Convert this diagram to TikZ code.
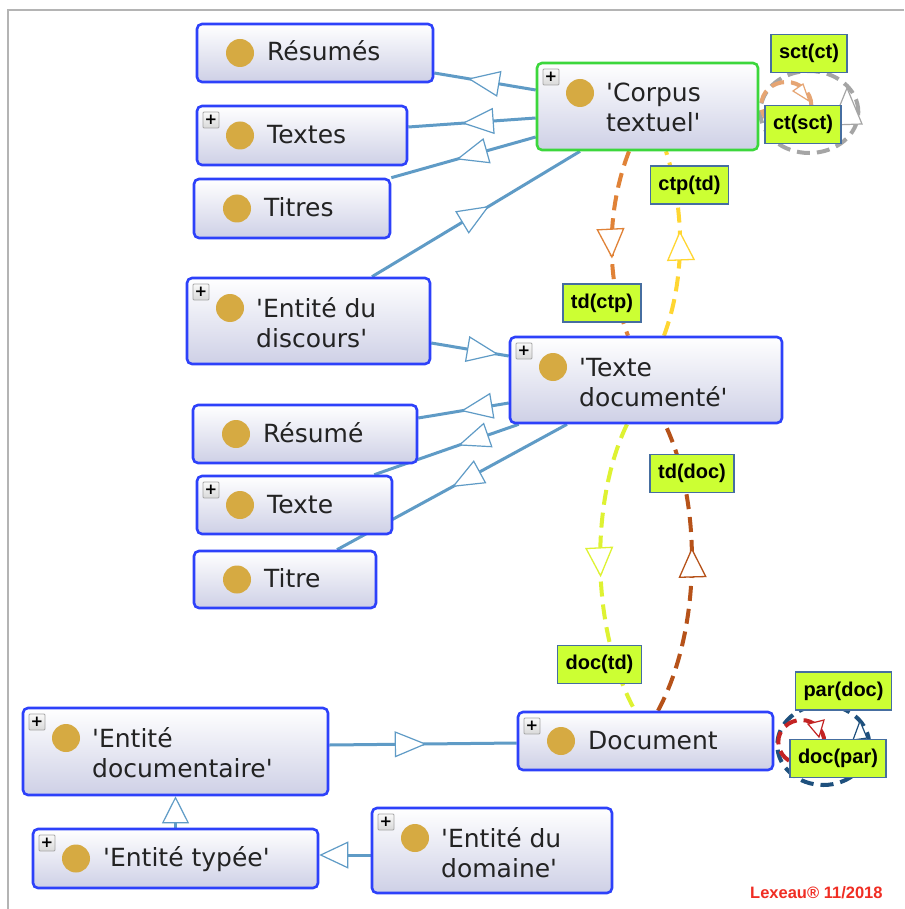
\documentclass[tikz,border=0pt]{standalone}
\usepackage{fontspec}
\setmainfont{DejaVu Sans}
\newfontfamily\relfont{Liberation Sans}
\usetikzlibrary{arrows.meta,decorations.markings,calc}
\pgfdeclarelayer{paper}
\pgfdeclarelayer{bg}
\pgfsetlayers{paper,bg,main}

\definecolor{nodeblue}{RGB}{45,65,250}
\definecolor{nodegreen}{RGB}{60,215,60}
\definecolor{shadebot}{RGB}{206,208,230}
\definecolor{gold}{RGB}{214,170,66}
\definecolor{edgeblue}{RGB}{95,155,198}
\definecolor{lime}{RGB}{204,255,51}
\definecolor{labelborder}{RGB}{70,110,160}
\definecolor{corange}{RGB}{224,130,55}
\definecolor{cyellow}{RGB}{255,214,50}
\definecolor{clime}{RGB}{222,242,50}
\definecolor{cbrown}{RGB}{182,82,25}
\definecolor{cgray}{RGB}{165,165,165}
\definecolor{clorange}{RGB}{230,165,115}
\definecolor{cnavy}{RGB}{30,80,125}
\definecolor{cred}{RGB}{195,35,35}
\definecolor{framegray}{RGB}{180,180,180}
\definecolor{textgray}{RGB}{35,35,35}
\definecolor{signred}{RGB}{240,45,35}

\def\myq{\textquotesingle}
\def\boxcol{nodeblue}

\tikzset{
  classbox/.style={draw=\boxcol, line width=2.6pt, rounded corners=5pt, top color=white, bottom color=shadebot, inner sep=0pt},
  golddot/.style={circle, fill=gold, minimum size=28pt, inner sep=0pt},
  plusbox/.style={draw=gray!70, top color=gray!5, bottom color=gray!30, minimum size=16pt, inner sep=0pt, rounded corners=1pt, line width=0.8pt, text=black, font=\fontsize{15}{15}\selectfont\bfseries},
  classtext/.style={anchor=base west, inner sep=0pt, text=textgray, font=\fontsize{25}{30}\selectfont},
  rellabel/.style={draw=labelborder, line width=1.6pt, fill=lime, inner xsep=8pt, inner ysep=0pt, minimum height=38pt, text=black, font=\relfont\bfseries\fontsize{20}{20}\selectfont},
  isa/.style={draw=edgeblue, line width=3pt, postaction={decorate}, decoration={markings, mark=at position #1 with {\arrow{Triangle[length=32pt,width=26pt,fill=white,line width=1.2pt]}}}},
  isaend/.style={draw=edgeblue, line width=3pt, -{Triangle[length=#1,width=27pt,fill=white,line width=1.2pt]}},
  objprop/.style 2 args={draw=#1, line width=4pt, dash pattern=on 15pt off 8pt, postaction={decorate}, decoration={markings, mark=at position #2 with {\arrow{Triangle[length=30pt,width=28pt,fill=white,line width=1.3pt]}}}},
  selfloop/.style={draw=#1, line width=4pt, dash pattern=on 13pt off 7pt},
  smalltip/.style={draw=#1, fill=white, line width=1.2pt, line join=miter},
}

% #1 name, #2 x1, #3 y1, #4 x2, #5 y2, #6 plus (1/0), #7 lines (1/2), #8 text lines
\newcommand\ontoclass[8]{%
  \node[classbox, minimum width={(#4-#2)*1pt}, minimum height={(#5-#3)*1pt}] (#1) at ({(#2+#4)/2},{(#3+#5)/2}) {};
  \ifnum#6=1 \node[plusbox] (#1-plus) at ({#2+14},{#3+14}) {+};\fi
  \ifnum#7=2
    \node[golddot] (#1-dot) at ({#2+43},{#3+30}) {};
    \node[classtext] (#1-text) at ({#2+69},{#3+39}) {\vtop{\baselineskip=30pt #8}};
  \else
    \node[golddot] (#1-dot) at ({#2+43},{(#3+#5)/2}) {};
    \node[classtext] (#1-text) at ({#2+70},{(#3+#5)/2+8}) {\vtop{\baselineskip=30pt #8}};
  \fi
}

\begin{document}
\begin{tikzpicture}[x=1pt,y=-1pt]
\useasboundingbox (0,0) rectangle (904,909);
\begin{pgfonlayer}{paper}
\fill[white] (0,0) rectangle (904,909);
\draw[framegray, line width=2.5pt] (8,909) -- (8,10) -- (904,10);
\end{pgfonlayer}

% classes
\ontoclass{resumes}{197}{24}{433}{82}{0}{1}{\hbox{Résumés}}
\ontoclass{textes}{197}{106}{407}{165}{1}{1}{\hbox{Textes}}
\ontoclass{titres}{194}{179}{390}{238}{0}{1}{\hbox{Titres}}
\def\boxcol{nodegreen}
\ontoclass{corpus}{537}{63}{758}{150}{1}{2}{\hbox{\myq Corpus}\hbox{textuel\myq}}
\def\boxcol{nodeblue}
\ontoclass{discours}{187}{278}{430}{364}{1}{2}{\hbox{\myq Entité du}\hbox{discours\myq}}
\ontoclass{textedoc}{510}{337}{782}{423}{1}{2}{\hbox{\myq Texte}\hbox{documenté\myq}}
\ontoclass{resume}{193}{405}{417}{463}{0}{1}{\hbox{Résumé}}
\ontoclass{texte}{197}{476}{392}{534}{1}{1}{\hbox{Texte}}
\ontoclass{titre}{194}{551}{376}{608}{0}{1}{\hbox{Titre}}
\ontoclass{document}{518}{712}{773}{770}{1}{1}{\hbox{Document}}
\ontoclass{entdoc}{23}{708}{328}{795}{1}{2}{\hbox{\myq Entité}\hbox{documentaire\myq}}
\ontoclass{enttypee}{33}{829}{318}{888}{1}{1}{\hbox{\myq Entité typée\myq}}
\ontoclass{entdom}{372}{808}{612}{893}{1}{2}{\hbox{\myq Entité du}\hbox{domaine\myq}}

\begin{pgfonlayer}{bg}
% subclass edges
\draw[isa=0.67] ($(corpus.west)+(0,-16.5)$) -- ($(resumes.east)+(0,20)$);
\draw[isa=0.58] ($(corpus.west)+(0,11.5)$) -- ($(textes.east)+(0,-8.5)$);
\draw[isa=0.55] ($(corpus.west)+(0,30.5)$) -- (titres.north east);
\draw[isa=0.564] ($(discours.north)+(63.5,0)$) -- ($(corpus.south)+(-67.5,0)$);
\draw[isa=0.87] ($(discours.east)+(0,22)$) -- ($(textedoc.west)+(0,-24)$);
\draw[isa=0.53] ($(textedoc.west)+(0,23)$) -- ($(resume.east)+(0,-16)$);
\draw[isa=0.42] ($(textedoc.south west)+(10,0)$) -- ($(texte.north east)+(-19,0)$);
\draw[isa=0.50] ($(textedoc.south)+(-79,0)$) -- ($(titre.north)+(52,0)$);
\draw[isa=0.52] ($(entdoc.east)+(0,-6.5)$) -- ($(document.west)+(0,2)$);
\draw[isaend=27pt] (enttypee.north) -- (entdoc.south);
\draw[isaend=29pt] ($(entdom.west)+(0,4.5)$) -- ($(enttypee.east)+(0,-3.5)$);

% object properties
\draw[objprop={corange}{0.58}] ($(corpus.south)+(-18.5,0)$) .. controls +(-23,60) and +(-22,-57) .. ($(textedoc.north)+(-18,0)$);
\draw[objprop={cyellow}{0.57}] ($(textedoc.north)+(18,0)$) .. controls +(21,-57) and +(19,60) .. ($(corpus.south)+(18.5,0)$);
\draw[objprop={clime}{0.53}] ($(textedoc.south)+(-19,0)$) .. controls +(-37,77) and +(-45,-82) .. ($(document.north)+(-10.5,0)$);
\draw[objprop={cbrown}{0.57}] ($(document.north)+(12.5,0)$) .. controls +(44,-82) and +(37,77) .. ($(textedoc.south)+(19,0)$);

% self loops
\draw[selfloop=cgray] ($(corpus.east)+(50,5.5)$) ellipse [x radius=49pt, y radius=41pt];
\draw[selfloop=clorange] ($(corpus.east)+(27,-1.5)$) ellipse [x radius=25pt, y radius=23pt];
\draw[selfloop=cnavy] ($(document.east)+(49,4)$) ellipse [x radius=46pt, y radius=40pt];
\draw[selfloop=cred] ($(document.east)+(27,1)$) ellipse [x radius=23pt, y radius=22pt];
\end{pgfonlayer}

% loop arrowheads
\draw[smalltip=cgray] (847,88) -- (862,124) -- (832,125) -- cycle;
\draw[smalltip=clorange] (809,101) -- (793,91) -- (803,84) -- cycle;
\draw[smalltip=cnavy] (860,721) -- (867,738) -- (853,740) -- cycle;
\draw[smalltip=cred] (819,737) -- (808,724) -- (824,720) -- cycle;

% relation labels
\node[rellabel] (l-tdctp) at (602,303) {td(ctp)};
\node[rellabel] (l-ctptd) at (689.5,185) {ctp(td)};
\node[rellabel] (l-tddoc) at (692,473.5) {td(doc)};
\node[rellabel] (l-doctd) at (599.5,664.5) {doc(td)};
\node[rellabel] (l-sctct) at (809,53.5) {sct(ct)};
\node[rellabel] (l-ctsct) at (803,124.5) {ct(sct)};
\node[rellabel] (l-pardoc) at (843.5,691) {par(doc)};
\node[rellabel] (l-docpar) at (838,758.5) {doc(par)};

\node[anchor=base west, inner sep=0pt, text=signred, font=\relfont\bfseries\fontsize{16.5}{16.5}\selectfont] (sign) at (750,898) {Lexeau® 11/2018};
\end{tikzpicture}
\end{document}
